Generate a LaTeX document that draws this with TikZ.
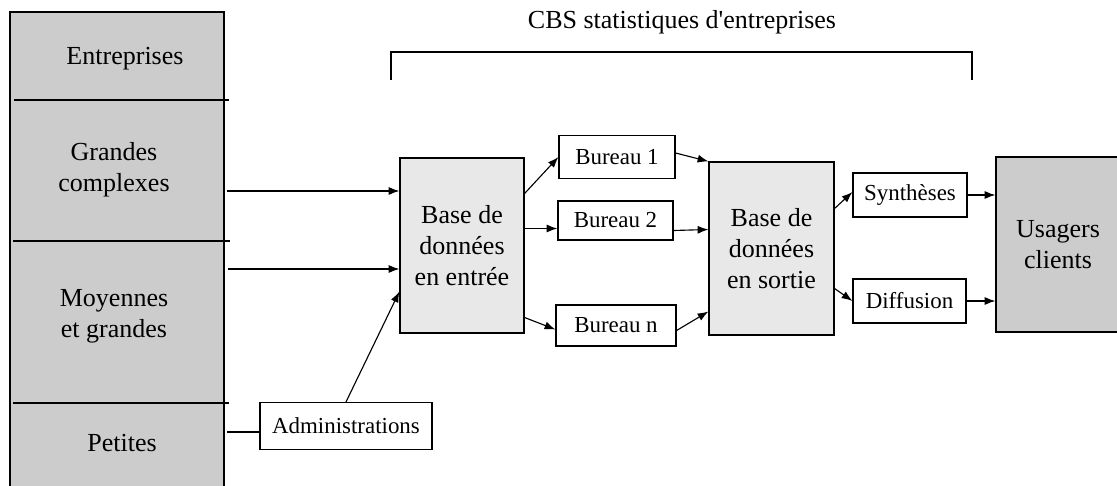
\documentclass[tikz,border=0pt]{standalone}
\usepackage{fontspec}
\setmainfont{Liberation Serif}
\usetikzlibrary{calc}
\usetikzlibrary{arrows.meta}
\definecolor{grisfonce}{gray}{0.80}
\definecolor{grisclair}{gray}{0.91}

\begin{document}
\begin{tikzpicture}[x=0.025cm,y=-0.025cm,line width=0.8pt,
    grand/.style={font=\fontsize{18.5}{22}\selectfont,align=center},
    petit/.style={font=\fontsize{16.3}{20}\selectfont,align=center},
    boite/.style={draw,fill=white,inner sep=0pt,petit},
    base/.style={draw,fill=grisclair,inner sep=0pt,grand,minimum width=3.1cm},
    fleche/.style={-{Latex[length=2.7mm,width=2mm]}}]
                \useasboundingbox (0,0) rectangle (1117,486);

                \fill[grisfonce] (10,12) rectangle (224,486);
                \draw (10,486) |- (224,12) -- (224,486);
                \draw (14,100) -- (229,100);
                \draw (13,241) -- (230,241);
                \draw (13,403) -- (229,403);

                \node[grand] (ent) at (125,59) {Entreprises};
                \node[grand] (gc) at (114,170) {Grandes\\complexes};
                \node[grand] (mg) at (114,316) {Moyennes\\et grandes};
                \node[grand] (pet) at (122,443) {Petites};

                \coordinate (gcout) at (227,191);
                \coordinate (mgout) at (228,269);
                \coordinate (petout) at (227,432);

                \node[grand] (cbs) at (682,22) {CBS statistiques d\textquotesingle entreprises};
                \draw (391,80) |- (972,52) -- (972,80);

                \node[boite,minimum width=4.3cm,minimum height=1.175cm] (adm) at (346,426) {Administrations};
                \node[base,minimum height=4.375cm] (bde) at (462,245.5) {Base de\\données\\en entrée};

                \node[boite,minimum width=2.9cm,minimum height=1.075cm] (b1) at (617,157) {Bureau 1};
                \node[boite,minimum width=2.875cm,minimum height=0.975cm] (b2) at (615.5,220.5) {Bureau 2};
                \node[boite,minimum width=3.0cm,minimum height=1.025cm] (bn) at (616,325.5) {Bureau n};

                \node[base,minimum width=3.125cm,minimum height=4.325cm] (bds) at (771.5,248.5) {Base de\\données\\en sortie};

                \node[boite,minimum width=2.85cm,minimum height=1.1cm] (syn) at (910,195) {Synthèses};
                \node[boite,minimum width=2.825cm,minimum height=1.1cm] (dif) at (909.5,301) {Diffusion};

                \node[base,fill=grisfonce,minimum height=4.375cm] (usa) at (1058,244.5) {Usagers\\clients};

                \draw[fleche] (gcout) -- (gcout -| bde.west);
                \draw[fleche] (mgout) -- (mgout -| bde.west);
                \draw (petout) -- (petout -| adm.west);
                \draw[fleche] (adm.north) -- ($(bde.west)+(0,46)$);

                \draw[fleche] ($(bde.east)+(0,-52)$) -- (b1.west);
                \draw[fleche] ($(bde.east)+(0,-17)$) -- ($(b2.west)+(0,8)$);
                \draw[fleche] ($(bde.east)+(0,72)$) -- ($(bn.west)+(0,4)$);

                \draw[fleche] ($(b1.east)+(0,-4)$) -- (bds.north west);
                \draw[fleche] ($(b2.east)+(0,10)$) -- ($(bds.west)+(0,-19)$);
                \draw[fleche] ($(bn.east)+(0,5)$) -- ($(bds.west)+(0,63)$);

                \draw[fleche] ($(bds.east)+(0,-40)$) -- ($(syn.west)+(0,-3)$);
                \draw[fleche] ($(bds.east)+(0,40)$) -- (dif.west);

                \draw[fleche] (syn.east) -- (syn.east -| usa.west);
                \draw[fleche] (dif.east) -- (dif.east -| usa.west);
            \end{tikzpicture}
\end{document}
